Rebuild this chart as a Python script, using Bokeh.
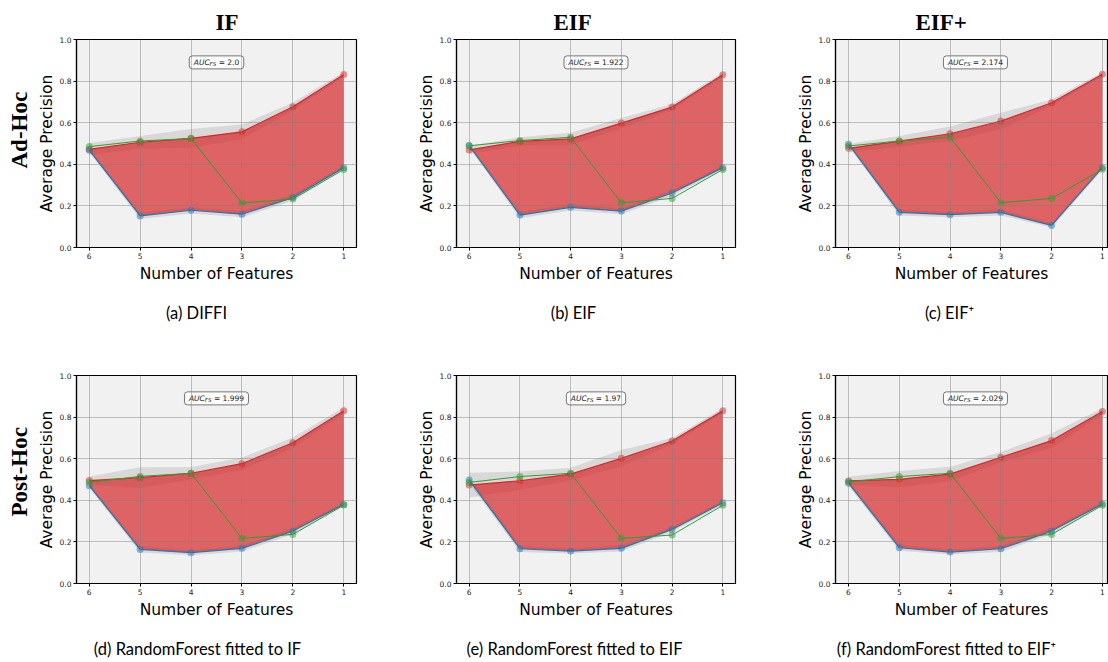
from bokeh.plotting import figure
from bokeh.models import Range1d, FixedTicker, NumeralTickFormatter, Title, Label
from bokeh.layouts import row, column
from bokeh.core.properties import value
from bokeh.embed import file_html
from bokeh.resources import INLINE

# ---------------- data ----------------
N_FEATURES = [6, 5, 4, 3, 2, 1]
X_TICKS = [6, 5, 4, 3, 2, 1]
Y_TICKS = [0.0, 0.2, 0.4, 0.6, 0.8, 1.0]

COLUMN_TITLES = ["IF", "EIF", "EIF+"]
ROW_TITLES = ["Ad-Hoc", "Post-Hoc"]
CAPTIONS = ["(a) DIFFI", "(b) EIF", "(c) EIF\u207a",
            "(d) RandomForest fitted to IF", "(e) RandomForest fitted to EIF",
            "(f) RandomForest fitted to  EIF\u207a"]
AUC_VALUES = ["2.0", "1.922", "2.174", "1.999", "1.97", "2.029"]

# direct ranking (red), inverse ranking (blue), random ranking (green)
DIRECT_A = [0.472, 0.506, 0.525, 0.556, 0.677, 0.832]
DIRECT_STD_A = [0.030, 0.030, 0.045, 0.035, 0.020, 0.012]
INVERSE_A = [0.468, 0.152, 0.179, 0.160, 0.240, 0.384]
INVERSE_STD_A = [0.010, 0.015, 0.015, 0.015, 0.015, 0.010]
RANDOM_A = [0.485, 0.512, 0.524, 0.214, 0.233, 0.375]

DIRECT_B = [0.469, 0.510, 0.522, 0.598, 0.675, 0.831]
DIRECT_STD_B = [0.020, 0.020, 0.030, 0.025, 0.015, 0.010]
INVERSE_B = [0.490, 0.156, 0.193, 0.175, 0.262, 0.384]
INVERSE_STD_B = [0.010, 0.015, 0.015, 0.015, 0.015, 0.010]
RANDOM_B = [0.489, 0.514, 0.530, 0.215, 0.236, 0.375]

DIRECT_C = [0.477, 0.511, 0.547, 0.608, 0.696, 0.833]
DIRECT_STD_C = [0.020, 0.025, 0.035, 0.040, 0.015, 0.010]
INVERSE_C = [0.497, 0.169, 0.158, 0.169, 0.106, 0.384]
INVERSE_STD_C = [0.010, 0.015, 0.012, 0.015, 0.010, 0.010]
RANDOM_C = [0.488, 0.512, 0.530, 0.215, 0.236, 0.376]

DIRECT_D = [0.495, 0.509, 0.530, 0.576, 0.677, 0.831]
DIRECT_STD_D = [0.020, 0.050, 0.030, 0.030, 0.025, 0.015]
INVERSE_D = [0.470, 0.164, 0.148, 0.169, 0.252, 0.380]
INVERSE_STD_D = [0.010, 0.015, 0.012, 0.015, 0.015, 0.010]
RANDOM_D = [0.486, 0.515, 0.530, 0.217, 0.236, 0.377]

DIRECT_E = [0.473, 0.494, 0.526, 0.602, 0.685, 0.830]
DIRECT_STD_E = [0.060, 0.045, 0.030, 0.040, 0.015, 0.012]
INVERSE_E = [0.497, 0.167, 0.156, 0.169, 0.260, 0.388]
INVERSE_STD_E = [0.015, 0.015, 0.012, 0.015, 0.012, 0.010]
RANDOM_E = [0.486, 0.514, 0.530, 0.217, 0.233, 0.376]

DIRECT_F = [0.493, 0.501, 0.526, 0.607, 0.687, 0.827]
DIRECT_STD_F = [0.020, 0.040, 0.035, 0.025, 0.035, 0.015]
INVERSE_F = [0.482, 0.172, 0.151, 0.167, 0.252, 0.382]
INVERSE_STD_F = [0.012, 0.015, 0.012, 0.015, 0.015, 0.010]
RANDOM_F = [0.488, 0.514, 0.530, 0.217, 0.236, 0.376]

PANELS = [
    (DIRECT_A, DIRECT_STD_A, INVERSE_A, INVERSE_STD_A, RANDOM_A),
    (DIRECT_B, DIRECT_STD_B, INVERSE_B, INVERSE_STD_B, RANDOM_B),
    (DIRECT_C, DIRECT_STD_C, INVERSE_C, INVERSE_STD_C, RANDOM_C),
    (DIRECT_D, DIRECT_STD_D, INVERSE_D, INVERSE_STD_D, RANDOM_D),
    (DIRECT_E, DIRECT_STD_E, INVERSE_E, INVERSE_STD_E, RANDOM_E),
    (DIRECT_F, DIRECT_STD_F, INVERSE_F, INVERSE_STD_F, RANDOM_F),
]

# ---------------- style / layout ----------------
RED = "#d62728"
BLUE = "#1f77b4"
GREEN = "#2ca02c"
BG = "#f1f1f1"
SANS = "DejaVu Sans"
SERIF = "Liberation Serif"
CAP_FONT = "Lato"

DV = {c: 0.636 for c in "0123456789"}
DV.update({".": 0.318, " ": 0.318, "=": 0.838, "A": 0.684, "U": 0.732,
           "C": 0.698, "F": 0.575, "S": 0.635})


def tw(s, size):
    return sum(DV.get(ch, 0.6) for ch in s) * size


COL_W = [360, 380, 368]
COL_LEFT = [76, 96, 95]
COL_RIGHT = [4, 5, 1]
COL_XR = [(6.25, 0.75), (6.25, 0.75), (6.256, 0.9)]
TITLE_OFFSET = [139, 97, 80]          # left edge of column title from frame left
ROW_TOP = [39, 40]
FRAME_H = 208
ROW_BOTTOM = [40, 40]
CAP_H = [48, 39]
CAP_Y_FROM_TOP = 25
CAP_X = [[196, 213, 209], [197, 214, 208]]
ROW_TITLE_OFFSET = [79, 67]


def make_panel(i):
    r, c = divmod(i, 3)
    direct, dstd, inverse, istd, rnd = PANELS[i]
    p = figure(width=COL_W[c], height=ROW_TOP[r] + FRAME_H + ROW_BOTTOM[r],
               x_range=Range1d(*COL_XR[c]), y_range=Range1d(0, 1),
               output_backend="svg", toolbar_location=None,
               background_fill_color=BG, border_fill_color="white",
               min_border_left=COL_LEFT[c], min_border_right=COL_RIGHT[c],
               min_border_top=ROW_TOP[r], min_border_bottom=ROW_BOTTOM[r])
    p.outline_line_color = "black"
    p.outline_line_width = 1.2
    p.outline_line_alpha = 1

    for ax in (p.xaxis[0], p.yaxis[0]):
        ax.axis_line_color = "black"
        ax.axis_line_width = 1.2
        ax.major_tick_line_color = "black"
        ax.major_tick_out = 3
        ax.major_tick_in = 0
        ax.minor_tick_line_color = None
        ax.major_label_text_font = SANS
        ax.major_label_text_font_size = "7.5px"
        ax.major_label_text_color = "#222222"
        ax.major_label_standoff = 2
        ax.axis_label_text_font = SANS
        ax.axis_label_text_font_size = "15.5px"
        ax.axis_label_text_font_style = "normal"
        ax.axis_label_text_color = "black"
    p.xaxis.axis_label_standoff = 3
    p.yaxis.axis_label_standoff = 1
    p.xaxis.ticker = FixedTicker(ticks=X_TICKS)
    p.yaxis.ticker = FixedTicker(ticks=Y_TICKS)
    p.yaxis.formatter = NumeralTickFormatter(format="0.0")
    p.xaxis.axis_label = "Number of Features"
    p.yaxis.axis_label = "Average Precision"

    p.grid.grid_line_color = "#7f7f7f"
    p.grid.grid_line_alpha = 0.45
    p.grid.grid_line_width = 1
    p.grid.level = "overlay"

    # std bands
    p.varea(x=N_FEATURES, y1=[m - s for m, s in zip(direct, dstd)],
            y2=[m + s for m, s in zip(direct, dstd)],
            fill_color="#808080", fill_alpha=0.22)
    p.varea(x=N_FEATURES, y1=[m - s for m, s in zip(inverse, istd)],
            y2=[m + s for m, s in zip(inverse, istd)],
            fill_color="#808080", fill_alpha=0.22)
    # area between direct and inverse rankings
    p.varea(x=N_FEATURES, y1=inverse, y2=direct, fill_color=RED, fill_alpha=0.7)

    p.line(N_FEATURES, direct, line_color=RED, line_width=1.2)
    p.line(N_FEATURES, inverse, line_color=BLUE, line_width=1.2)
    p.line(N_FEATURES, rnd, line_color=GREEN, line_width=1.0)
    for ys, col in ((direct, RED), (inverse, BLUE), (rnd, GREEN)):
        p.scatter(N_FEATURES, ys, size=7, fill_color=col, fill_alpha=0.5,
                  line_color=None)

    # AUC_FS box
    rest = "= " + AUC_VALUES[i]
    w_auc, w_fs, w_sp, w_rest = tw("AUC", 7.5), tw("FS", 5.5), tw(" ", 7.5), tw(rest, 7.5)
    total = w_auc + w_fs + w_sp + w_rest
    x0, y0 = 3.5, 0.89
    try:
        p.rect(x=[x0], y=[y0], width=[total + 9], height=[13],
               width_units="screen", height_units="screen",
               fill_color="white", fill_alpha=0.8, line_color="#555555",
               line_width=0.8, border_radius=3)
    except Exception:
        p.rect(x=[x0], y=[y0], width=[total + 9], height=[13],
               width_units="screen", height_units="screen",
               fill_color="white", fill_alpha=0.8, line_color="#555555",
               line_width=0.8)
    start = -total / 2
    p.add_layout(Label(x=x0, y=y0, x_offset=start, text="AUC",
                       text_font=SANS, text_font_size="7.5px",
                       text_font_style="italic", text_baseline="middle",
                       text_align="left", text_color="#222222"))
    p.add_layout(Label(x=x0, y=y0, x_offset=start + w_auc, y_offset=-2,
                       text="FS", text_font=SANS, text_font_size="5.5px",
                       text_font_style="italic", text_baseline="middle",
                       text_align="left", text_color="#222222"))
    p.add_layout(Label(x=x0, y=y0, x_offset=start + w_auc + w_fs + w_sp,
                       text=rest, text_font=SANS, text_font_size="7.5px",
                       text_baseline="middle", text_align="left",
                       text_color="#222222"))

    if r == 0:
        p.title.text = COLUMN_TITLES[c]
        p.title.align = "left"
        p.title.offset = TITLE_OFFSET[c]
        p.title.text_font = SERIF
        p.title.text_font_size = "23px"
        p.title.text_font_style = "bold"
        p.title.text_color = "black"
        p.title.standoff = 10
    if c == 0:
        p.add_layout(Title(text=ROW_TITLES[r], align="left",
                           offset=ROW_TITLE_OFFSET[r], text_font=SERIF,
                           text_font_size="23px", text_font_style="bold",
                           text_color="black", standoff=6), "left")
    return p


def make_caption(i):
    r, c = divmod(i, 3)
    h = CAP_H[r]
    q = figure(width=COL_W[c], height=h, x_range=Range1d(0, COL_W[c]),
               y_range=Range1d(0, h), x_axis_type=None, y_axis_type=None,
               output_backend="svg", toolbar_location=None, min_border=0,
               outline_line_color=None, background_fill_color="white",
               border_fill_color="white")
    q.text(x=[CAP_X[r][c]], y=[h - CAP_Y_FROM_TOP], text=[CAPTIONS[i]],
           text_font=value(CAP_FONT), text_font_size="16.5px",
           text_align="center", text_baseline="middle", text_color="black")
    return q


figs = [make_panel(i) for i in range(6)]
caps = [make_caption(i) for i in range(6)]
layout = column(row(*figs[:3]), row(*caps[:3]), row(*figs[3:]), row(*caps[3:]))

open("out.html", "w").write(file_html(layout, INLINE))
